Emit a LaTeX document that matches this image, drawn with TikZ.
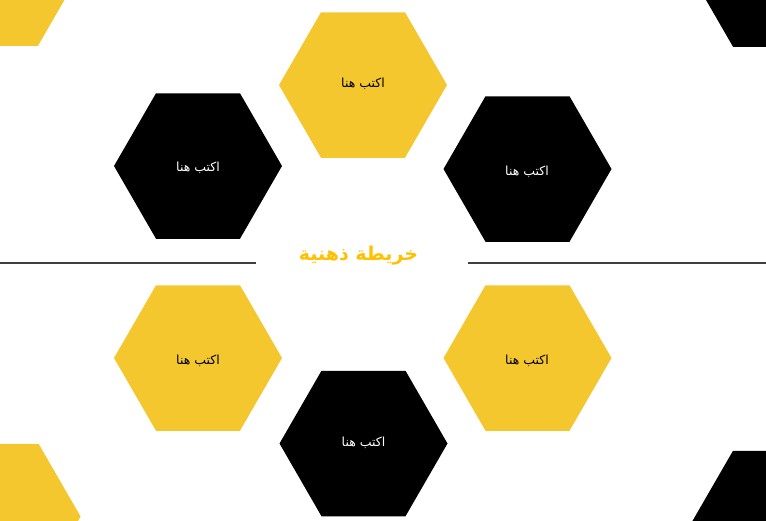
\documentclass[tikz,border=0pt]{standalone}
\usepackage{fontspec}
\newfontfamily\arabicfont[Script=Arabic]{DejaVu Sans}
\TeXXeTstate=1
\definecolor{hexyellow}{HTML}{F4C72F}
\definecolor{titleyellow}{HTML}{FFC000}
\definecolor{rulegray}{HTML}{404040}
\newcommand\hexfill[3]{\fill[#3] (#1,#2) +(84,0) -- +(42,72.75) -- +(-42,72.75) -- +(-84,0) -- +(-42,-72.75) -- +(42,-72.75) -- cycle;}
\begin{document}
\begin{tikzpicture}[x=1pt,y=-1pt,
  lab/.style={font=\arabicfont\fontsize{12.5}{15}\selectfont, inner sep=0pt},
  onyellow/.style={lab, text=black},
  onblack/.style={lab, text=white},
  titlestyle/.style={font=\arabicfont\bfseries\fontsize{19}{22}\selectfont, text=titleyellow, inner sep=0pt},
  rule/.style={draw=rulegray, line width=2pt}]
\useasboundingbox (0,0) rectangle (766,520);
\clip (0,0) rectangle (766,520);
% corner partial hexagons
\hexfill{-4}{-27}{hexyellow}
\hexfill{775}{-26}{black}
\hexfill{-3.4}{516.5}{hexyellow}
\hexfill{775}{523.5}{black}
% main hexagons
\hexfill{363}{85}{hexyellow}
\hexfill{198}{166}{black}
\hexfill{527.5}{169}{black}
\hexfill{198}{358}{hexyellow}
\hexfill{527.5}{358}{hexyellow}
\hexfill{363.5}{443.5}{black}
% labels
\node[onyellow] (t1) at (363,84) {\beginR اكتب هنا\endR};
\node[onblack] (t2) at (198,168) {\beginR اكتب هنا\endR};
\node[onblack] (t3) at (527,172) {\beginR اكتب هنا\endR};
\node[onyellow] (t4) at (198,361) {\beginR اكتب هنا\endR};
\node[onyellow] (t5) at (527,361) {\beginR اكتب هنا\endR};
\node[onblack] (t6) at (363.5,443) {\beginR اكتب هنا\endR};
% title and rules
\node[titlestyle] (title) at (358.5,256) {\beginR خريطة ذهنية\endR};
\coordinate (l0) at (0,263);
\coordinate (l1) at (256,263);
\coordinate (r0) at (467.5,263);
\coordinate (r1) at (766,263);
\draw[rule] (l0) -- (l1);
\draw[rule] (r0) -- (r1);
\end{tikzpicture}
\end{document}
